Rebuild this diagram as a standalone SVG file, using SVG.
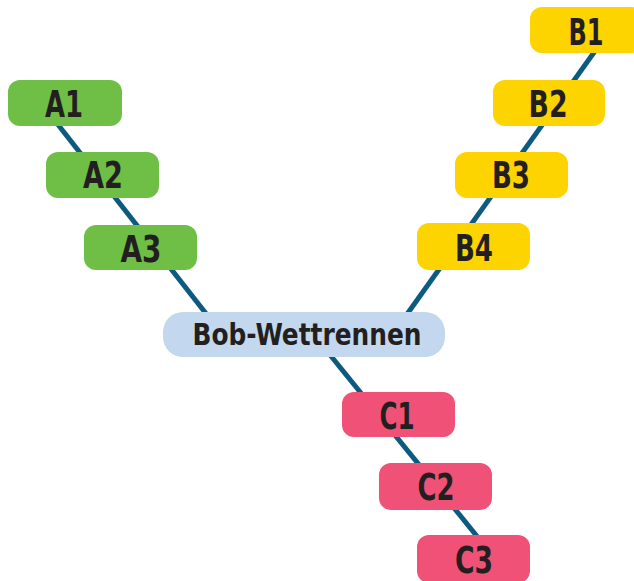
<svg xmlns="http://www.w3.org/2000/svg" width="634" height="581" viewBox="0 0 634 581">
<style>
.box{stroke:none}
.a{fill:#6fbe45}
.b{fill:#fdd300}
.c{fill:#ef5276}
.m{fill:#c3d8ee}
.lbl{font-family:"DejaVu Sans Condensed","DejaVu Sans",sans-serif;font-stretch:condensed;font-weight:bold;font-size:37px;fill:#231f20;text-anchor:middle}
.big{font-size:30px}
.ln{stroke:#0c5a80;stroke-width:5;fill:none;stroke-linecap:butt}
</style>
<rect width="634" height="581" fill="#ffffff"/>
<g id="connectors">
<line class="ln" x1="45" y1="108" x2="222" y2="334"/>
<line class="ln" x1="600" y1="44" x2="400" y2="324"/>
<line class="ln" x1="322" y1="345" x2="480" y2="540"/>
</g>
<g id="bob">
<rect class="box m" x="163" y="312" width="282" height="45" rx="20"/>
<text class="lbl big" x="307" y="345" textLength="229" lengthAdjust="spacingAndGlyphs">Bob-Wettrennen</text>
</g>
<g id="A1"><rect class="box a" x="8" y="80" width="114" height="46" rx="12"/><text class="lbl" x="64" y="117" textLength="38" lengthAdjust="spacingAndGlyphs">A1</text></g>
<g id="A2"><rect class="box a" x="46" y="152" width="113" height="46" rx="12"/><text class="lbl" x="103" y="188" textLength="40" lengthAdjust="spacingAndGlyphs">A2</text></g>
<g id="A3"><rect class="box a" x="84" y="225" width="113" height="45" rx="12"/><text class="lbl" x="141" y="262" textLength="41" lengthAdjust="spacingAndGlyphs">A3</text></g>
<g id="B1"><rect class="box b" x="530" y="7" width="114" height="46" rx="12"/><text class="lbl" x="586" y="45" textLength="35" lengthAdjust="spacingAndGlyphs">B1</text></g>
<g id="B2"><rect class="box b" x="493" y="80" width="112" height="46" rx="12"/><text class="lbl" x="548" y="117" textLength="39" lengthAdjust="spacingAndGlyphs">B2</text></g>
<g id="B3"><rect class="box b" x="455" y="152" width="113" height="46" rx="12"/><text class="lbl" x="511" y="188" textLength="38" lengthAdjust="spacingAndGlyphs">B3</text></g>
<g id="B4"><rect class="box b" x="417" y="223" width="113" height="47" rx="12"/><text class="lbl" x="474" y="261" textLength="38" lengthAdjust="spacingAndGlyphs">B4</text></g>
<g id="C1"><rect class="box c" x="342" y="392" width="113" height="45" rx="12"/><text class="lbl" x="397" y="429" textLength="35" lengthAdjust="spacingAndGlyphs">C1</text></g>
<g id="C2"><rect class="box c" x="379" y="463" width="113" height="47" rx="12"/><text class="lbl" x="436" y="500" textLength="37" lengthAdjust="spacingAndGlyphs">C2</text></g>
<g id="C3"><rect class="box c" x="417" y="535" width="113" height="48" rx="12"/><text class="lbl" x="474" y="573" textLength="38" lengthAdjust="spacingAndGlyphs">C3</text></g>
</svg>
